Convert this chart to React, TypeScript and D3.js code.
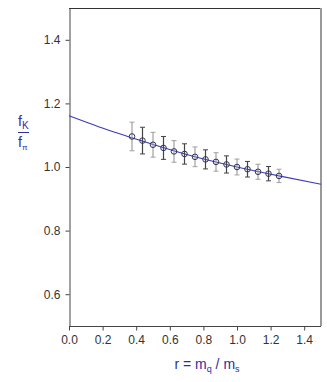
import React, { useEffect, useRef } from 'react';
import * as d3 from 'd3';

// lattice points: r = mq/ms, fK/fπ and error
const rValues = [0.375, 0.4375, 0.5, 0.5625, 0.625, 0.6875, 0.75, 0.8125, 0.875, 0.9375, 1.0, 1.0625, 1.125, 1.1875, 1.25];
const ratioValues = [1.096, 1.083, 1.07, 1.06, 1.049, 1.041, 1.032, 1.024, 1.016, 1.008, 1.0, 0.993, 0.985, 0.979, 0.972];
const errValues = [0.045, 0.042, 0.039, 0.036, 0.034, 0.032, 0.031, 0.03, 0.029, 0.027, 0.025, 0.0245, 0.0236, 0.0225, 0.021];

// fit curve
const fitR = [0, 0.25, 0.5, 0.75, 1.0, 1.25, 1.5];
const fitValues = [1.161, 1.113, 1.071, 1.032, 1.0, 0.972, 0.946];

const xTicks = [0, 0.2, 0.4, 0.6, 0.8, 1.0, 1.2, 1.4];
const yTicks = [0.6, 0.8, 1.0, 1.2, 1.4];

const App = () => {
    const svgRef = useRef<SVGSVGElement>(null);

    useEffect(() => {
        const svg = d3.select(svgRef.current);
        svg.selectAll('*').remove();

        const left = 69, right = 321, top = 8, bottom = 326;
        const x = d3.scaleLinear().domain([0, 1.5]).range([left, right]);
        const y = d3.scaleLinear().domain([0.5, 1.5]).range([bottom, top]);
        const font = 'Liberation Sans, Arial, sans-serif';
        const blue = '#2e2ea0';

        // frame: top and right
        svg.append('line').attr('x1', left).attr('x2', right).attr('y1', top + 0.5).attr('y2', top + 0.5)
            .attr('stroke', '#333').attr('stroke-width', 1);
        svg.append('line').attr('x1', right).attr('x2', right).attr('y1', top).attr('y2', bottom)
            .attr('stroke', '#999').attr('stroke-width', 2);

        // axes
        const xAxis = svg.append('g')
            .attr('transform', `translate(0, ${bottom + 0.5})`)
            .call(d3.axisBottom(x).tickValues(xTicks).tickFormat(d3.format('.1f')).tickSizeOuter(0).tickSizeInner(4).tickPadding(5));
        const yAxis = svg.append('g')
            .attr('transform', `translate(${left + 0.5}, 0)`)
            .call(d3.axisLeft(y).tickValues(yTicks).tickFormat(d3.format('.1f')).tickSizeOuter(0).tickSizeInner(4).tickPadding(5));
        [xAxis, yAxis].forEach(g => {
            g.select('.domain').attr('stroke', '#444');
            g.selectAll('.tick line').attr('stroke', '#444');
            g.selectAll('.tick text').attr('fill', '#333').style('font-size', '12px').style('font-family', font);
        });
        // bottom axis line needs to cover full width
        xAxis.select('.domain').attr('d', `M${left},0H${right}`);

        // fit curve
        const line = d3.line<number>()
            .x((d, i) => x(fitR[i]))
            .y(d => y(d))
            .curve(d3.curveMonotoneX);
        svg.append('path')
            .datum(fitValues)
            .attr('d', line)
            .attr('fill', 'none')
            .attr('stroke', '#3a3abf')
            .attr('stroke-width', 1.1);

        // error bars
        const bars = svg.append('g');
        rValues.forEach((r, i) => {
            const col = i % 2 === 0 ? '#a0a0a0' : '#444';
            const cx = x(r);
            const y0 = y(ratioValues[i] + errValues[i]);
            const y1 = y(ratioValues[i] - errValues[i]);
            bars.append('line').attr('x1', cx).attr('x2', cx).attr('y1', y0).attr('y2', y1)
                .attr('stroke', col).attr('stroke-width', 1.2);
            [y0, y1].forEach(yy => {
                bars.append('line').attr('x1', cx - 2.5).attr('x2', cx + 2.5).attr('y1', yy).attr('y2', yy)
                    .attr('stroke', col).attr('stroke-width', 1);
            });
        });

        // points
        svg.append('g').selectAll('circle')
            .data(ratioValues)
            .enter()
            .append('circle')
            .attr('cx', (d, i) => x(rValues[i]))
            .attr('cy', d => y(d))
            .attr('r', 2.8)
            .attr('fill', 'none')
            .attr('stroke', '#333355')
            .attr('stroke-width', 1);

        // x title
        const xt = svg.append('text')
            .attr('x', 207).attr('y', 369)
            .attr('text-anchor', 'middle')
            .attr('fill', blue)
            .style('font-family', font)
            .style('font-size', '14px');
        xt.append('tspan').text('r = m');
        xt.append('tspan').attr('dy', 3).style('font-size', '9px').text('q');
        xt.append('tspan').attr('dy', -3).text(' / m');
        xt.append('tspan').attr('dy', 3).style('font-size', '9px').text('s');

        // y title: fK / fπ
        const yt = svg.append('g').attr('fill', blue).style('font-family', font);
        const t1 = yt.append('text').attr('x', 18).attr('y', 126).style('font-size', '14px');
        t1.append('tspan').text('f');
        t1.append('tspan').attr('dy', 3).style('font-size', '10px').text('K');
        yt.append('line').attr('x1', 18).attr('x2', 29).attr('y1', 132.5).attr('y2', 132.5)
            .attr('stroke', blue).attr('stroke-width', 1);
        const t2 = yt.append('text').attr('x', 18).attr('y', 147).style('font-size', '14px');
        t2.append('tspan').text('f');
        t2.append('tspan').attr('dy', 3).style('font-size', '8px').text('π');
    }, []);

    return (
        <svg ref={svgRef} width={327} height={382}
            style={{ position: 'absolute', left: 0, top: 0, background: '#fff' }} />
    );
};

export default App;
